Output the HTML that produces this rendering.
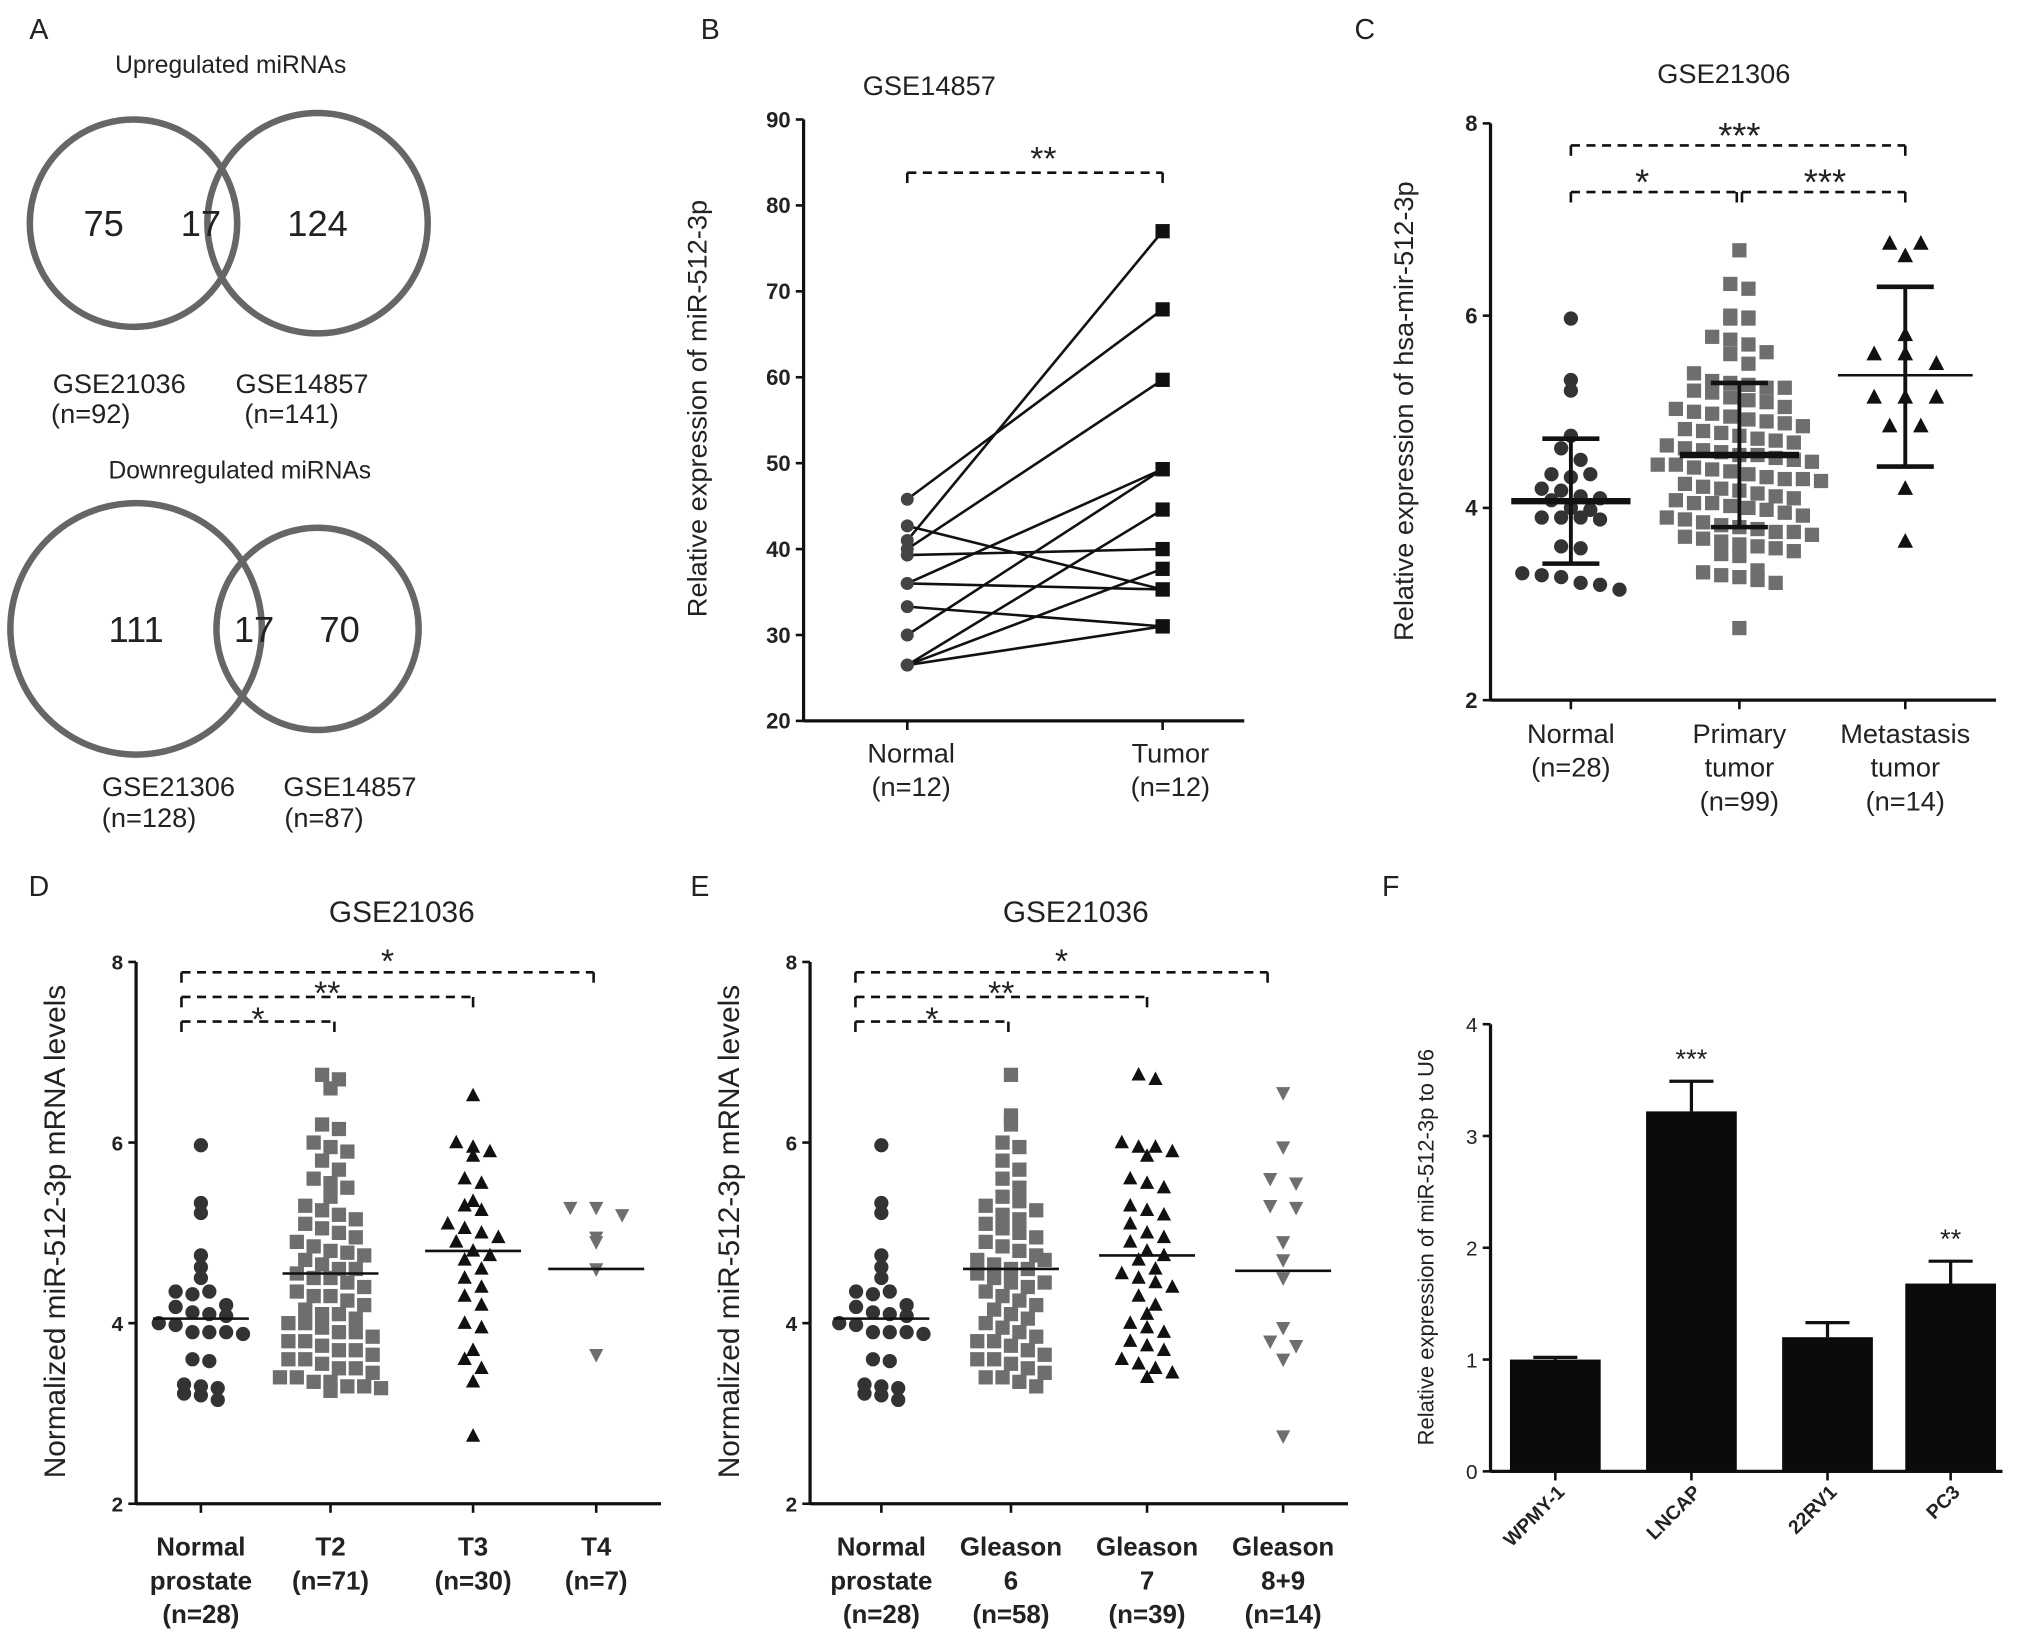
<!DOCTYPE html>
<html><head><meta charset="utf-8"><style>
html,body{margin:0;padding:0;background:#fff;}
svg{display:block;font-family:"Liberation Sans",Arial,sans-serif;}
</style></head><body>
<svg id="fig" width="2031" height="1644" viewBox="0 0 1567 1268" xmlns="http://www.w3.org/2000/svg">
<rect width="1567" height="1268" fill="#fff"/>
<g font-size="21" fill="#222" text-anchor="middle">
<text x="30" y="30" font-size="22">A</text>
<text x="178" y="56" font-size="19">Upregulated miRNAs</text>
<circle cx="103" cy="172" r="80" fill="none" stroke="#666" stroke-width="5"/>
<circle cx="245" cy="172" r="85" fill="none" stroke="#666" stroke-width="5"/>
<text x="80" y="182" font-size="28">75</text>
<text x="155" y="182" font-size="28">17</text>
<text x="245" y="182" font-size="28">124</text>
<text x="92" y="303">GSE21036</text>
<text x="70" y="326">(n=92)</text>
<text x="233" y="303">GSE14857</text>
<text x="225" y="326">(n=141)</text>
<text x="185" y="369" font-size="19">Downregulated miRNAs</text>
<circle cx="105" cy="485" r="97" fill="none" stroke="#666" stroke-width="5"/>
<circle cx="245" cy="485" r="78" fill="none" stroke="#666" stroke-width="5"/>
<text x="105" y="495" font-size="28">111</text>
<text x="196" y="495" font-size="28">17</text>
<text x="262" y="495" font-size="28">70</text>
<text x="130" y="614">GSE21306</text>
<text x="115" y="638">(n=128)</text>
<text x="270" y="614">GSE14857</text>
<text x="250" y="638">(n=87)</text>
</g>
<g id="plots"></g>
</svg>
<script>
// ===== data =====
const bNormal = [45.8, 42.7, 41.0, 40.0, 39.3, 36.0, 36.0, 33.3, 30.0, 26.5, 26.5, 26.5];
const bTumor  = [67.9, 35.3, 77.0, 59.7, 40.0, 49.3, 35.3, 31.0, 49.3, 44.6, 37.7, 31.0];
const bTicks = [20,30,40,50,60,70,80,90];

const normalVals = [5.97,5.33,5.22,4.75,4.62,4.5,4.35,4.32,4.35,4.2,4.18,4.12,4.1,4.08,4.0,3.98,3.9,3.9,3.9,3.88,3.6,3.58,3.32,3.3,3.28,3.22,3.2,3.15];
const primaryVals = [6.68,6.33,6.28,6.0,5.98,5.97,5.97,5.78,5.75,5.7,5.62,5.6,5.5,5.4,5.32,5.3,5.28,5.25,5.25,5.22,5.2,5.15,5.12,5.1,5.05,5.03,5.0,4.98,4.95,4.92,4.9,4.88,4.85,4.82,4.8,4.78,4.75,4.72,4.7,4.68,4.65,4.62,4.6,4.58,4.55,4.55,4.52,4.5,4.48,4.45,4.45,4.42,4.4,4.38,4.35,4.32,4.3,4.3,4.28,4.25,4.22,4.2,4.18,4.15,4.12,4.1,4.08,4.05,4.05,4.02,4.0,3.98,3.95,3.92,3.9,3.88,3.85,3.82,3.8,3.78,3.75,3.75,3.72,3.7,3.68,3.65,3.62,3.6,3.58,3.55,3.52,3.5,3.35,3.33,3.3,3.28,3.25,3.22,2.75];
const metaVals = [6.75,6.75,6.62,5.8,5.6,5.6,5.5,5.15,5.15,5.15,4.85,4.85,4.2,3.65];
const cMeans = [4.07,4.55,5.38];
const cSdLo = [3.42,3.8,4.43];
const cSdHi = [4.72,5.3,6.3];
const cTicks = [2,4,6,8];

const t2Vals = [6.75,6.7,6.6,6.2,6.15,6.0,5.95,5.9,5.8,5.7,5.6,5.55,5.5,5.4,5.3,5.25,5.2,5.15,5.1,5.05,5.0,4.95,4.9,4.85,4.8,4.78,4.75,4.7,4.65,4.6,4.6,4.55,4.5,4.5,4.45,4.4,4.35,4.3,4.3,4.25,4.2,4.15,4.1,4.1,4.05,4.0,4.0,3.95,3.9,3.9,3.85,3.8,3.8,3.75,3.7,3.7,3.65,3.6,3.6,3.55,3.5,3.5,3.45,3.4,3.4,3.35,3.35,3.3,3.3,3.28,3.25];
const t3Vals = [6.52,6.0,5.95,5.9,5.85,5.6,5.55,5.35,5.3,5.25,5.1,5.05,5.0,4.95,4.9,4.8,4.75,4.7,4.6,4.5,4.4,4.3,4.2,4.0,3.95,3.7,3.6,3.5,3.35,2.75];
const t4Vals = [5.28,5.28,5.2,4.95,4.9,4.6,3.65];
const dMeans = [4.05,4.55,4.8,4.6];

const g6Vals = [6.75,6.3,6.2,6.0,5.95,5.8,5.7,5.6,5.5,5.4,5.35,5.3,5.2,5.15,5.1,5.05,5.0,4.95,4.9,4.85,4.8,4.75,4.7,4.65,4.6,4.6,4.55,4.5,4.45,4.4,4.35,4.3,4.25,4.2,4.15,4.1,4.05,4.0,3.95,3.9,3.85,3.8,3.8,3.75,3.7,3.65,3.6,3.6,3.55,3.5,3.45,3.4,3.4,3.35,3.3,4.45,4.7,5.25];
const g7Vals = [6.75,6.7,6.0,5.95,5.95,5.9,5.85,5.6,5.55,5.5,5.3,5.25,5.2,5.1,5.0,4.95,4.9,4.8,4.75,4.7,4.6,4.55,4.5,4.45,4.4,4.3,4.2,4.1,4.0,3.95,3.9,3.8,3.75,3.7,3.6,3.55,3.5,3.45,3.4];
const g89Vals = [6.55,5.95,5.6,5.55,5.3,5.28,4.9,4.7,4.5,3.95,3.8,3.75,3.6,2.75];
const eMeans = [4.05,4.6,4.75,4.58];

const fCats = ["WPMY-1","LNCAP","22RV1","PC3"];
const fVals = [1.0,3.22,1.2,1.68];
const fErr = [0.02,0.27,0.13,0.2];
const fStars = ["","***","","**"];
const fTicks = [0,1,2,3,4];

// ===== helpers =====
const NS="http://www.w3.org/2000/svg";
const root=document.getElementById('plots');
function mk(tag,attrs,parent,txt){const e=document.createElementNS(NS,tag);for(const k in attrs)e.setAttribute(k,attrs[k]);if(txt!==undefined)e.textContent=txt;(parent||root).appendChild(e);return e;}
function line(x1,y1,x2,y2,w,name,dash){const e=mk('line',{x1:x1,y1:y1,x2:x2,y2:y2,stroke:'#111','stroke-width':w||2.5});if(dash)e.setAttribute('stroke-dasharray',dash);


return e;}
function text(x,y,s,size,name,extra){const e=mk('text',Object.assign({x:x,y:y,'font-size':size,'text-anchor':'middle',fill:'#222'},extra||{}),root,s);


return e;}
function marker(shape,cx,cy,r,fill){let e;
if(shape==='circle')e=mk('circle',{cx:cx,cy:cy,r:r,fill:fill});
else if(shape==='square')e=mk('rect',{x:cx-r,y:cy-r,width:2*r,height:2*r,fill:fill});
else if(shape==='tri')e=mk('polygon',{points:`${cx},${cy-r*1.1} ${cx-r},${cy+r*0.8} ${cx+r},${cy+r*0.8}`,fill:fill});
else e=mk('polygon',{points:`${cx},${cy+r*1.1} ${cx-r},${cy-r*0.8} ${cx+r},${cy-r*0.8}`,fill:fill});


return e;}
function swarm(vals,cx,yf,step,shape,r,fill,binPx){
 const bins={};vals.forEach(v=>{const k=Math.round(yf(v)/binPx);(bins[k]=bins[k]||[]).push(v);});
 Object.values(bins).forEach(arr=>{arr.forEach((v,i)=>{const off=(i-(arr.length-1)/2)*step;marker(shape,cx+off,yf(v),r,fill);});});
}
function bracket(x1,x2,y,name){line(x1,y,x2,y,2,name,'7,5');line(x1,y,x1,y+8,2,name+'-tick-left');line(x2,y,x2,y+8,2,name+'-tick-right');}
function yaxis(x,yTop,yBot,ticks,yf,size,name,bold){line(x,yTop,x,yBot,2.5,name);ticks.forEach(t=>{line(x-6,yf(t),x,yf(t),2,name+'-tick');text(x-10,yf(t)+6,String(t),size,name+'-label',{'text-anchor':'end','font-weight':bold?'bold':'normal'});});}

// ===== Panel B =====
text(548,30,'B',22,'panel-label-b');
text(717,73,'GSE14857',21,'chart-b-title');
const bY=v=>556-(v-20)*(464/70);
const bX=[700,897];
yaxis(620,92,556,bTicks,bY,17,'b-y-axis',true);
line(620,556,960,556,2.5,'b-x-axis');
bX.forEach(x=>line(x,556,x,563,2,'b-x-tick'));
text(703,588,'Normal',21,'b-x-label-normal');text(703,614,'(n=12)',21,'b-x-n-normal');
text(903,588,'Tumor',21,'b-x-label-tumor');text(903,614,'(n=12)',21,'b-x-n-tumor');
text(0,0,'Relative expression of miR-512-3p',21,'b-y-axis-title',{transform:'translate(545,315) rotate(-90)'});
bracket(700,897,133,'b-sig-bracket');text(805,131,'**',26,'b-sig-stars');
bNormal.forEach((v,i)=>{line(bX[0],bY(v),bX[1],bY(bTumor[i]),2,'b-pair-line');});
bNormal.forEach(v=>marker('circle',bX[0],bY(v),5,'#444'));
bTumor.forEach(v=>marker('square',bX[1],bY(v),5.5,'#111'));

// ===== Panel C =====
text(1053,30,'C',22,'panel-label-c');
text(1330,64,'GSE21306',21,'chart-c-title');
const cY=v=>540-(v-2)*(445/6);
const cX=[1212,1342,1470];
yaxis(1150,95,540,cTicks,cY,17,'c-y-axis',true);
line(1150,540,1540,540,2.5,'c-x-axis');
cX.forEach(x=>line(x,540,x,547,2,'c-x-tick'));
[['Normal','(n=28)'],['Primary','tumor','(n=99)'],['Metastasis','tumor','(n=14)']].forEach((ls,i)=>ls.forEach((s,j)=>text(cX[i],573+j*26,s,21,'c-x-label')));
text(0,0,'Relative expression of hsa-mir-512-3p',21,'c-y-axis-title',{transform:'translate(1090,317) rotate(-90)'});
bracket(1212,1470,112,'c-sig-normal-meta');text(1342,114,'***',28,'c-sig-stars-top');
bracket(1212,1340,148,'c-sig-normal-primary');text(1267,150,'*',28,'c-sig-star');
bracket(1344,1470,148,'c-sig-primary-meta');text(1408,150,'***',28,'c-sig-stars');
swarm(normalVals,cX[0],cY,15,'circle',5.5,'#333',14);
swarm(primaryVals,cX[1],cY,14,'square',5.5,'#6e6e6e',14);
swarm(metaVals,cX[2],cY,24,'tri',6,'#111',14);
cMeans.forEach((m,i)=>{const w=i===2?52:46;line(cX[i]-w,cY(m),cX[i]+w,cY(m),i===2?2:5,'c-mean-line');line(cX[i],cY(cSdLo[i]),cX[i],cY(cSdHi[i]),3,'c-sd-bar');line(cX[i]-22,cY(cSdLo[i]),cX[i]+22,cY(cSdLo[i]),3.5,'c-sd-cap-low');line(cX[i]-22,cY(cSdHi[i]),cX[i]+22,cY(cSdHi[i]),3.5,'c-sd-cap-high');});

// ===== Panels D & E =====
const dY=v=>1160-(v-2)*69.67;
const dTicks=[2,4,6,8];
function dotPanel(label,lx,ax,titleX,cats,labels,groups,means,xEnd,brk){
 text(lx,691,label,22,'panel-label-'+label.toLowerCase());
 text(titleX,711,'GSE21036',23,'chart-'+label.toLowerCase()+'-title');
 yaxis(ax,742,1160,dTicks,dY,16,label.toLowerCase()+'-y-axis',true);
 line(ax,1160,xEnd,1160,2.5,label.toLowerCase()+'-x-axis');
 cats.forEach(x=>line(x,1160,x,1167,2,'x-tick'));
 labels.forEach((ls,i)=>ls.forEach((s,j)=>text(cats[i],1200+j*26,s,20,'x-category-label',{'font-weight':'bold'})));
 text(0,0,'Normalized miR-512-3p mRNA levels',23,label.toLowerCase()+'-y-axis-title',{transform:`translate(${ax-55},950) rotate(-90)`});
 bracket(brk[0],brk[3],750,'sig-bracket-wide');text((brk[0]+brk[3])/2,750,'*',26,'sig-star');
 bracket(brk[0],brk[2],769,'sig-bracket-mid');text((brk[0]+brk[2])/2,775,'**',26,'sig-stars');
 bracket(brk[0],brk[1],788,'sig-bracket-short');text((brk[0]+brk[1])/2,795,'*',26,'sig-star');
 const shapes=['circle','square','tri','dtri'],fills=['#333','#6e6e6e','#111','#6e6e6e'];
 groups.forEach((g,i)=>swarm(g,cats[i],dY,i===3?20:13,shapes[i],5.5,fills[i],13));
 means.forEach((m,i)=>line(cats[i]-37,dY(m),cats[i]+37,dY(m),2,'mean-line'));
}
dotPanel('D',30,105,310,[155,255,365,460],[['Normal','prostate','(n=28)'],['T2','(n=71)'],['T3','(n=30)'],['T4','(n=7)']],[normalVals,t2Vals,t3Vals,t4Vals],dMeans,510,[140,258,365,458]);
dotPanel('E',540,625,830,[680,780,885,990],[['Normal','prostate','(n=28)'],['Gleason','6','(n=58)'],['Gleason','7','(n=39)'],['Gleason','8+9','(n=14)']],[normalVals,g6Vals,g7Vals,g89Vals],eMeans,1040,[660,778,885,978]);

// ===== Panel F =====
text(1073,691,'F',22,'panel-label-f');
const fY=v=>1135-v*86.25;
const fX=[1200,1305,1410,1505];
yaxis(1150,790,1135,fTicks,fY,16,'f-y-axis',false);
line(1150,1135,1545,1135,2.5,'f-x-axis');
text(0,0,'Relative expression of miR-512-3p to U6',17,'f-y-axis-title',{transform:'translate(1106,962) rotate(-90)'});
fVals.forEach((v,i)=>{const x=fX[i];
 const e=mk('rect',{x:x-35,y:fY(v),width:70,height:1135-fY(v),fill:'#0b0b0b'});
 
 
 line(x,fY(v),x,fY(v+fErr[i]),2.5,'f-error-bar');line(x-17,fY(v+fErr[i]),x+17,fY(v+fErr[i]),2.5,'f-error-cap');
 line(x,1135,x,1142,2,'f-x-tick');
 if(fStars[i])text(x,fY(v+fErr[i])-10,fStars[i],21,'f-sig-stars');
 text(0,0,fCats[i],15,'f-x-label',{'font-weight':'bold','text-anchor':'end',transform:`translate(${x+8},1152) rotate(-45)`});
});
</script>
</body></html>
